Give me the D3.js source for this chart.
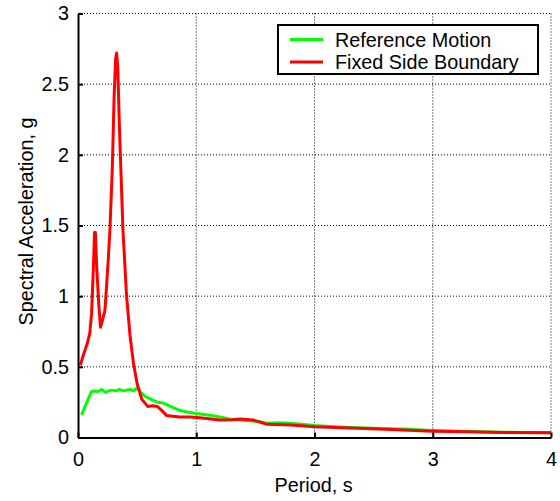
<!DOCTYPE html>
<html>
<head>
<meta charset="utf-8">
<script src="https://cdn.jsdelivr.net/npm/d3@7"></script>
<style>
  body { margin: 0; background: #fff; }
  text { font-family: "Liberation Sans", Arial, sans-serif; fill: #000; }
</style>
</head>
<body>
<svg id="chart" width="560" height="501"></svg>
<script>
// series: Reference Motion (green)
const refPeriod = [0.03,0.06,0.09,0.115,0.14,0.17,0.2,0.23,0.26,0.29,0.32,0.35,0.38,0.41,0.44,0.47,0.5,0.53,0.57,0.62,0.67,0.72,0.78,0.85,0.92,1.0,1.1,1.2,1.31,1.42,1.54,1.6,1.7,1.8,2.0,2.2,2.5,2.8,3.0,3.3,3.6,4.0];
const refSa = [0.16,0.22,0.28,0.325,0.33,0.325,0.34,0.32,0.33,0.335,0.33,0.34,0.33,0.335,0.34,0.33,0.35,0.32,0.29,0.27,0.25,0.245,0.22,0.195,0.18,0.17,0.16,0.145,0.125,0.12,0.112,0.1,0.105,0.1,0.085,0.075,0.065,0.058,0.05,0.042,0.037,0.033];

// series: Fixed Side Boundary (red)
const fixPeriod = [0.02,0.04,0.06,0.08,0.1,0.115,0.13,0.14,0.147,0.158,0.175,0.19,0.21,0.228,0.256,0.27,0.29,0.305,0.318,0.327,0.337,0.35,0.38,0.41,0.44,0.47,0.5,0.54,0.59,0.63,0.67,0.71,0.75,0.8,0.86,0.95,1.03,1.2,1.3,1.37,1.48,1.6,1.8,2.0,2.3,2.6,3.0,3.3,3.6,4.0];
const fixSa = [0.51,0.57,0.62,0.67,0.74,0.88,1.2,1.45,1.45,1.21,0.95,0.78,0.84,0.9,1.26,1.47,1.9,2.4,2.68,2.72,2.6,2.2,1.47,1.01,0.72,0.52,0.38,0.27,0.22,0.225,0.22,0.19,0.155,0.15,0.145,0.145,0.14,0.124,0.125,0.131,0.124,0.093,0.088,0.076,0.067,0.058,0.045,0.04,0.036,0.033];

const xTicks = [0,1,2,3,4];
const yTicks = [0,0.5,1,1.5,2,2.5,3];
const seriesNames = ["Reference Motion","Fixed Side Boundary"];
const seriesColors = ["#00ff00","#ff0000"];

const svg = d3.select("#chart");
const margin = {left: 78, top: 13.5, right: 9, bottom: 63.5};
const width = 560 - margin.left - margin.right;
const height = 501 - margin.top - margin.bottom;
const fontSize = 19.8;

const x = d3.scaleLinear().domain([0,4]).range([0,width]);
const y = d3.scaleLinear().domain([0,3]).range([height,0]);

const g = svg.append("g").attr("transform", `translate(${margin.left},${margin.top})`);

// dotted grid
g.append("g").selectAll("line").data(xTicks.filter(d => d > 0)).enter().append("line")
  .attr("x1", d => x(d)).attr("x2", d => x(d)).attr("y1", 0).attr("y2", height)
  .attr("stroke", "#000").attr("stroke-width", 1).attr("stroke-dasharray", "1,2");
g.append("g").selectAll("line").data(yTicks.filter(d => d > 0)).enter().append("line")
  .attr("y1", d => y(d)).attr("y2", d => y(d)).attr("x1", 0).attr("x2", width)
  .attr("stroke", "#000").attr("stroke-width", 1).attr("stroke-dasharray", "1,2");

// curves
const line = d3.line().x(d => x(d[0])).y(d => y(d[1]));
const series = [d3.zip(refPeriod, refSa), d3.zip(fixPeriod, fixSa)];
series.forEach((s, i) => {
  g.append("path").datum(s)
    .attr("d", line)
    .attr("fill", "none")
    .attr("stroke", seriesColors[i])
    .attr("stroke-width", 3)
    .attr("stroke-linejoin", "round");
});

// axes (inward ticks, matlab style)
const xAxis = g.append("g").attr("transform", `translate(0,${height})`)
  .call(d3.axisBottom(x).tickValues(xTicks).tickFormat(d3.format("d")).tickSizeInner(-5).tickSizeOuter(0).tickPadding(14));
const yAxis = g.append("g")
  .call(d3.axisLeft(y).tickValues(yTicks).tickFormat(d => d).tickSizeInner(-5).tickSizeOuter(0).tickPadding(9));
[xAxis, yAxis].forEach(a => {
  a.select(".domain").attr("stroke", "#000").attr("stroke-width", 2);
  a.selectAll(".tick line").attr("stroke", "#000").attr("stroke-width", 2);
  a.selectAll("text").style("font-size", fontSize + "px").attr("fill", "#000");
});

// axis titles
svg.append("text")
  .attr("x", margin.left + width / 2 - 1).attr("y", 492)
  .attr("text-anchor", "middle").style("font-size", fontSize + "px")
  .text("Period, s");
svg.append("text")
  .attr("transform", `translate(33,${margin.top + height / 2 - 4}) rotate(-90)`)
  .attr("text-anchor", "middle").style("font-size", fontSize + "px")
  .text("Spectral Acceleration, g");

// legend
const lg = svg.append("g").attr("transform", "translate(278,25)");
lg.append("rect").attr("width", 260).attr("height", 49)
  .attr("fill", "#fff").attr("stroke", "#000").attr("stroke-width", 2);
seriesNames.forEach((name, i) => {
  const ly = 14.5 + i * 22.5;
  lg.append("line").attr("x1", 12).attr("x2", 45).attr("y1", ly).attr("y2", ly)
    .attr("stroke", seriesColors[i]).attr("stroke-width", 3);
  lg.append("text").attr("x", 57).attr("y", ly + 7)
    .style("font-size", fontSize + "px").text(name);
});
</script>
</body>
</html>
